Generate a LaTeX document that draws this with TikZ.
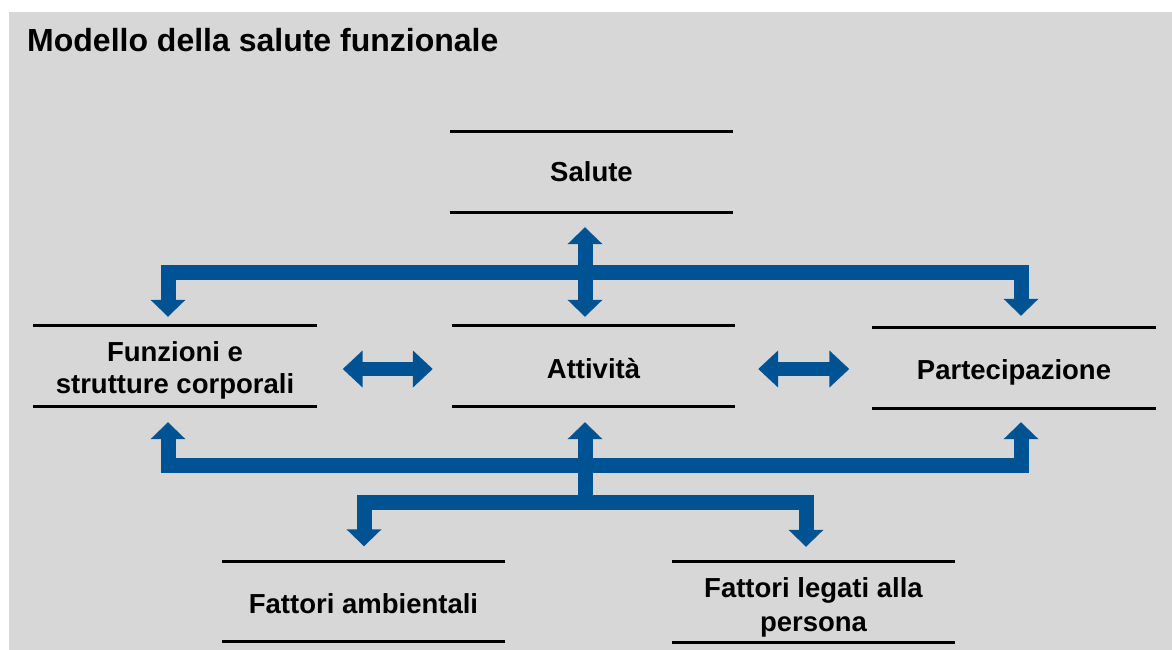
\documentclass[tikz,border=0pt]{standalone}
\usepackage{fontspec}
\setmainfont{Liberation Sans}
\usetikzlibrary{arrows.meta,calc}
\definecolor{bggray}{RGB}{215,215,215}
\definecolor{icfblue}{RGB}{0,83,147}
\tikzset{
  box/.style={minimum width=283pt, minimum height=80pt, inner sep=0pt, align=center,
    font=\fontsize{27.5}{32}\selectfont\bfseries},
  rule/.style={draw=black, line width=3pt},
  bus/.style={draw=icfblue, line width=15pt, line join=miter},
  vtip/.tip={Triangle[width=34pt,length=17pt]},
  htip/.tip={Triangle[width=36pt,length=20pt]},
}
% #1 node name, #2 how far the text sits below the frame centre
\newcommand{\ruled}[2]{%
  \draw[rule] ($(#1.north west)+(0,-#2)$) -- ($(#1.north east)+(0,-#2)$);
  \draw[rule] ($(#1.south west)+(0,-#2)$) -- ($(#1.south east)+(0,-#2)$);}
\begin{document}
\begin{tikzpicture}[x=1pt,y=-1pt]
\useasboundingbox (0,0) rectangle (1172,650);
\fill[bggray] (9,12) rectangle (1172,650);
\node[anchor=base west, inner sep=0pt, font=\fontsize{32}{36}\selectfont\bfseries] (title) at (27,52) {Modello della salute funzionale};

\node[box] (salute) at (591.5,172) {Salute};
\node[box] (attiv) at (593.5,369) {Attività};
\node[box] (funz) at (175,370) {Funzioni e\\strutture corporali};
\node[box] (part) at (1014,372) {Partecipazione};
\node[box] (amb) at (363.5,603.5) {Fattori ambientali};
\node[box] (pers) at (813.5,607) {Fattori legati alla\\[2pt]persona};
\ruled{salute}{0}\ruled{attiv}{3}\ruled{funz}{4}\ruled{part}{4}\ruled{amb}{2}\ruled{pers}{5}

\coordinate (hubA) at (585,272.5);
\coordinate (hubB) at (585,465.5);
\coordinate (hubC) at (585,502.5);

% upper bus
\draw[bus,-vtip] (hubA) -| ($(funz.north)+(-7,-13)$);
\draw[bus,-vtip] (hubA) -| ($(part.north)+(7,-16)$);
\draw[bus,vtip-vtip] ($(salute.south)+(-6.5,15)$) -- ($(attiv.north)+(-8.5,-12)$);

% lower bus
\draw[bus,-vtip] (hubB) -| ($(funz.south)+(-7,12)$);
\draw[bus,-vtip] (hubB) -| ($(part.south)+(7,10)$);
\draw[bus,-vtip] (hubC) -- ($(attiv.south)+(-8.5,13)$);
\draw[bus,-vtip] (hubC) -| ($(amb.north)+(0.5,-17)$);
\draw[bus,-vtip] (hubC) -| ($(pers.north)+(-7.5,-20)$);

% horizontal double arrows
\draw[bus,line width=14pt,htip-htip] ($(funz.east)+(26,-1)$) -- ($(attiv.west)+(-19,0)$);
\draw[bus,line width=14pt,htip-htip] ($(attiv.east)+(23,0)$) -- ($(part.west)+(-23,-3)$);
\end{tikzpicture}
\end{document}
